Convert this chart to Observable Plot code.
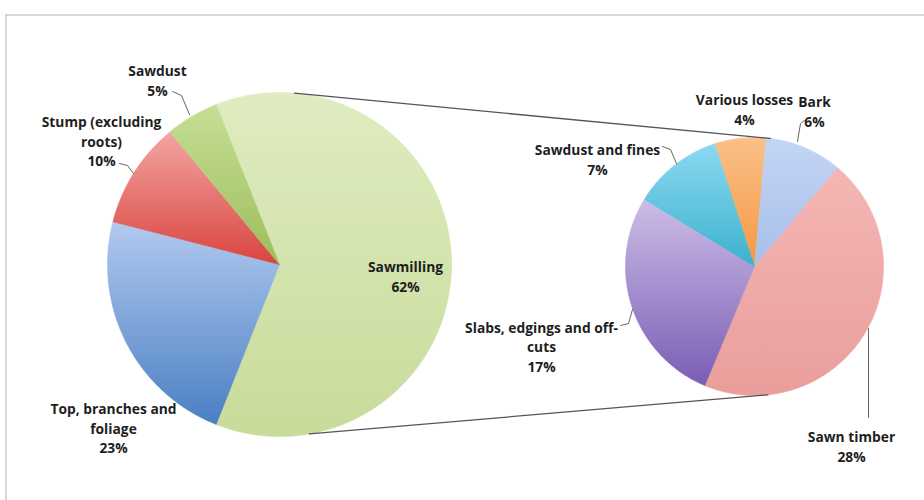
<!DOCTYPE html>
<html><head><meta charset="utf-8">
<script src="https://cdn.jsdelivr.net/npm/d3@7"></script>
<script src="https://cdn.jsdelivr.net/npm/@observablehq/plot@0.6"></script>
<style>body{margin:0;background:#fff;} #chart{width:924px;height:500px;overflow:hidden;}</style>
</head><body><div id="chart"></div>
<script>
// ---- data ----
const primaryCategories = ["Sawmilling", "Top, branches and foliage", "Stump (excluding roots)", "Sawdust"];
const primaryValues = [62, 23, 10, 5];
const primaryLabels = ["Sawmilling", "Top, branches and\nfoliage", "Stump (excluding\nroots)", "Sawdust"];

const secondaryCategories = ["Various losses", "Bark", "Sawn timber", "Slabs, edgings and off-cuts", "Sawdust and fines"];
const secondaryValues = [4, 6, 28, 17, 7];
const secondaryLabels = ["Various losses", "Bark", "Sawn timber", "Slabs, edgings and off-\ncuts", "Sawdust and fines"];

// ---- styles (top -> bottom gradient stops) ----
const primaryColors = [["#dfecc1", "#c8db9a"], ["#b2caef", "#4a7fc3"], ["#f3a5a2", "#d9443f"], ["#c6de96", "#9cbe5b"]];
const secondaryColors = [["#fbc088", "#f59843"], ["#c3d5f5", "#a8bfe9"], ["#f4b6b4", "#ea9e9c"], ["#cdbde7", "#7a5db4"], ["#8cd9f0", "#3bb1ce"]];

// ---- layout ----
const leftPie = {cx: 279, cy: 264, r: 172};
leftPie.start = 90 - primaryValues[0] / d3.sum(primaryValues) * 180;
const rightPie = {cx: 754, cy: 266, r: 129, start: -18};
const connectorAngles = [[5, 7], [170, 174]]; // [left pie angle, right pie angle]

const primaryLabelPos = [[405, 275], [113, 427], [101, 140], [157, 79.5]];
const secondaryLabelPos = [[744, 108.5], [814, 110], [851, 445], [541, 345.5], [597, 158.5]];
const leaders = [
  [[172, 91], [181, 95], [189, 114]],
  [[119, 163], [127, 165], [133, 173]],
  [[804, 120], [800, 123], [797, 141]],
  [[662, 146], [670, 149], [676, 163]],
  [[620, 325], [628, 323], [632, 309]],
  [[868, 328], [868, 417]]
];
const frameCorner = [5.5, 14.5];

// ---- geometry ----
function slices(values, cats, pie, prefix) {
  const total = d3.sum(values);
  let a = pie.start;
  return values.map((v, i) => {
    const a0 = a, a1 = a + v / total * 360; a = a1;
    return {cat: cats[i], a0, a1, id: prefix + i};
  });
}
function pt(pie, deg) {
  const a = deg * Math.PI / 180;
  return {x: pie.cx + pie.r * Math.sin(a), y: pie.cy - pie.r * Math.cos(a)};
}
function polygon(s, pie) {
  const pts = [{x: pie.cx, y: pie.cy}];
  const n = Math.max(2, Math.ceil(s.a1 - s.a0));
  for (let k = 0; k <= n; k++) pts.push(pt(pie, s.a0 + (s.a1 - s.a0) * k / n));
  pts.push({x: pie.cx, y: pie.cy});
  return pts;
}

const leftSlices = slices(primaryValues, primaryCategories, leftPie, "p");
const rightSlices = slices(secondaryValues, secondaryCategories, rightPie, "s");

const marks = [];
marks.push(Plot.ruleY([frameCorner[1]], {x1: frameCorner[0], x2: 924, stroke: "#b0b0b0", strokeWidth: 1}));
marks.push(Plot.ruleX([frameCorner[0]], {y1: frameCorner[1], y2: 500, stroke: "#b0b0b0", strokeWidth: 1}));
for (const s of leftSlices) marks.push(Plot.line(polygon(s, leftPie), {x: "x", y: "y", fill: `url(#g-${s.id})`, stroke: `url(#g-${s.id})`, strokeWidth: 0.6}));
for (const s of rightSlices) marks.push(Plot.line(polygon(s, rightPie), {x: "x", y: "y", fill: `url(#g-${s.id})`, stroke: `url(#g-${s.id})`, strokeWidth: 0.6}));
for (const [la, ra] of connectorAngles) marks.push(Plot.line([pt(leftPie, la), pt(rightPie, ra)], {x: "x", y: "y", stroke: "#555", strokeWidth: 1.3}));
for (const L of leaders) marks.push(Plot.line(L, {x: d => d[0], y: d => d[1], stroke: "#666", strokeWidth: 1}));

const labelRows = [
  ...primaryCategories.map((c, i) => ({text: primaryLabels[i] + "\n" + primaryValues[i] + "%", x: primaryLabelPos[i][0], y: primaryLabelPos[i][1]})),
  ...secondaryCategories.map((c, i) => ({text: secondaryLabels[i] + "\n" + secondaryValues[i] + "%", x: secondaryLabelPos[i][0], y: secondaryLabelPos[i][1]}))
];
marks.push(Plot.text(labelRows, {x: "x", y: "y", text: "text", fontSize: 13.8, fontWeight: "bold", fontFamily: "'Open Sans', Lato, sans-serif", lineHeight: 1.42, fill: "#1e1e1e", textAnchor: "middle", lineAnchor: "middle"}));

const svg = Plot.plot({
  width: 924, height: 500, margin: 0,
  x: {domain: [0, 924], range: [0, 924], axis: null},
  y: {domain: [0, 500], range: [0, 500], axis: null},
  style: {background: "#fff", overflow: "hidden"},
  marks
});
const defs = d3.select(svg).insert("defs", ":first-child");
const allGrad = [
  ...leftSlices.map((s, i) => [s.id, primaryColors[i]]),
  ...rightSlices.map((s, i) => [s.id, secondaryColors[i]])
];
for (const [id, [c0, c1]] of allGrad) {
  const g = defs.append("linearGradient").attr("id", "g-" + id).attr("x1", 0).attr("y1", 0).attr("x2", 0).attr("y2", 1);
  g.append("stop").attr("offset", "0%").attr("stop-color", c0);
  g.append("stop").attr("offset", "100%").attr("stop-color", c1);
}
document.getElementById("chart").appendChild(svg);
</script>
</body></html>
